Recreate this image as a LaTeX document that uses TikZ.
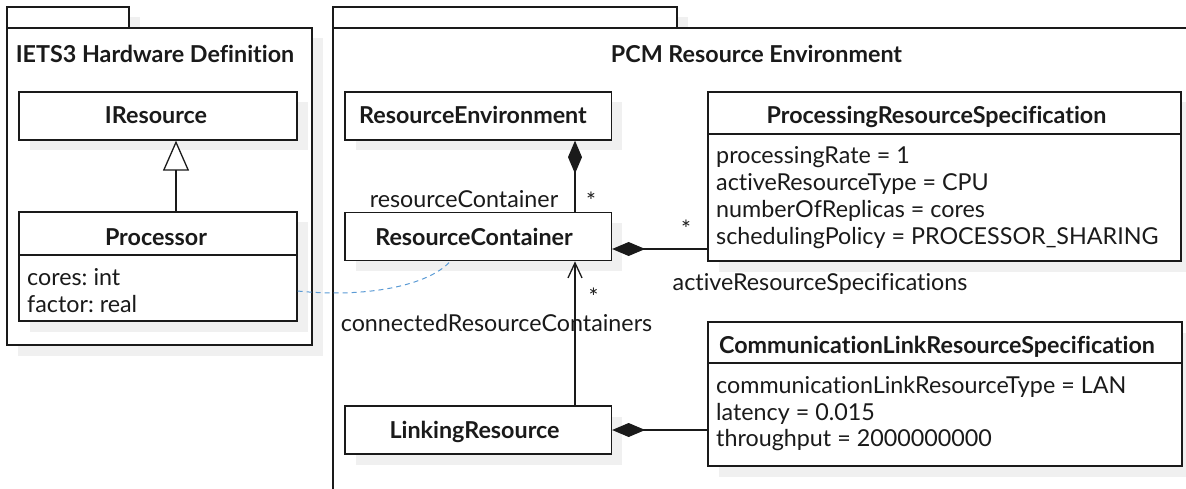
\documentclass[tikz,border=0pt]{standalone}
\usepackage{fontspec}
\setmainfont{Lato}[Ligatures=CommonOff]
\usetikzlibrary{arrows.meta,shadows}
\definecolor{shadowgray}{HTML}{F0F0F0}
\definecolor{linkblue}{HTML}{5B9BD5}
\definecolor{ink}{HTML}{1A1A1A}
\frenchspacing

\tikzset{
  umlshadow/.style={drop shadow={shadow xshift=10.5pt,shadow yshift=-10.5pt,fill=shadowgray,opacity=1}},
  box/.style={draw=ink, line width=1.3pt, fill=white, umlshadow, inner sep=0pt},
  txt/.style={inner sep=0pt, text=ink, font=\fontsize{23.3}{28}\selectfont},
  btxt/.style={inner sep=0pt, text=ink, font=\fontsize{23.3}{28}\selectfont\bfseries},
  conn/.style={draw=ink, line width=1.3pt},
  compo/.style={conn, -{Diamond[length=33pt,width=14pt,fill=ink]}},
  navi/.style={conn, -{Straight Barb[length=15pt,width=14pt,line width=1.3pt]}},
  generalize/.style={conn, -{Triangle[open,length=30pt,width=26pt,fill=white,line width=1.3pt]}},
  trace/.style={draw=linkblue, line width=1pt, dash pattern=on 5pt off 4pt},
}

\begin{document}
\begin{tikzpicture}[x=1pt,y=-1pt]
\path[use as bounding box] (0,0) rectangle (1186,489);
\clip (0,0) rectangle (1186,489);

% ---- package: IETS3 Hardware Definition
\node[box, minimum width=122pt, minimum height=21pt] (ptabA) at (68,17.5) {};
\node[box, minimum width=305pt, minimum height=317pt] (pkgA) at (159.5,186.5) {};
\node[btxt, anchor=base] (pkgAtitle) at (155,63) {IETS3 Hardware Definition};

% ---- package: PCM Resource Environment
\node[box, minimum width=344pt, minimum height=21pt] (ptabB) at (505,17.5) {};
\node[box, minimum width=877pt, minimum height=482pt] (pkgB) at (771.5,269) {};
\node[btxt, anchor=base] (pkgBtitle) at (756.5,63) {PCM Resource Environment};

% ---- classes of the hardware definition
\node[box, minimum width=278pt, minimum height=48pt] (ires) at (158,116) {};
\node[btxt, anchor=base] (iresname) at (156,124) {IResource};

\node[box, minimum width=278pt, minimum height=109pt] (proc) at (158,266.5) {};
\draw[conn] (proc.west |- 0,255) -- (proc.east |- 0,255);
\node[btxt, anchor=base] (procname) at (156,245) {Processor};
\node[txt, anchor=base west] (procA1) at (27,285) {cores: int};
\node[txt, anchor=base west] (procA2) at (27,312) {factor: real};

% ---- classes of the resource environment
\node[box, minimum width=266.5pt, minimum height=48pt] (renv) at (478.25,116) {};
\node[btxt, anchor=base] (renvname) at (473,124) {ResourceEnvironment};

\node[box, minimum width=266.5pt, minimum height=48pt] (rcont) at (478.25,236.7) {};
\node[btxt, anchor=base] (rcontname) at (474,245) {ResourceContainer};

\node[box, minimum width=266.5pt, minimum height=48pt] (lres) at (478.25,430) {};
\node[btxt, anchor=base] (lresname) at (474.5,438.3) {LinkingResource};

\node[box, minimum width=473pt, minimum height=169pt] (prs) at (944.5,176.5) {};
\draw[conn] (prs.west |- 0,134) -- (prs.east |- 0,134);
\node[btxt, anchor=base] (prsname) at (936.5,124) {ProcessingResourceSpecification};
\node[txt, anchor=base west] (prsA1) at (716,164) {processingRate = 1};
\node[txt, anchor=base west] (prsA2) at (716,190.7) {activeResourceType = CPU};
\node[txt, anchor=base west] (prsA3) at (716,217.3) {numberOfReplicas = cores};
\node[txt, anchor=base west] (prsA4) at (716,244) {schedulingPolicy = PROCESSOR\_SHARING};

\node[box, minimum width=474pt, minimum height=144pt] (clrs) at (945,394) {};
\draw[conn] (clrs.west |- 0,363) -- (clrs.east |- 0,363);
\node[btxt, anchor=base] (clrsname) at (937,353.3) {CommunicationLinkResourceSpecification};
\node[txt, anchor=base west] (clrsA1) at (716,393.3) {communicationLinkResourceType = LAN};
\node[txt, anchor=base west] (clrsA2) at (716,420) {latency = 0.015};
\node[txt, anchor=base west] (clrsA3) at (716,446.7) {throughput = 2000000000};

% ---- relations
\draw[generalize] ([xshift=18pt]proc.north) -- ([xshift=18pt]ires.south);
\draw[compo] ([xshift=96.75pt]rcont.north) -- ([xshift=96.75pt]renv.south);
\draw[compo] ([yshift=-12.3pt]prs.west |- rcont.east) -- ([yshift=-12.3pt]rcont.east);
\draw[compo] (clrs.west |- lres.east) -- (lres.east);
\draw[navi] ([xshift=96.75pt]lres.north) -- ([xshift=96.75pt]rcont.south);

% ---- role names and multiplicities
\node[txt, anchor=base] (rolerc) at (464,208) {resourceContainer};
\node[txt, anchor=base] (multrc) at (591,210) {*};
\node[txt, anchor=base] (multars) at (686,237) {*};
\node[txt, anchor=base] (rolears) at (820,290) {activeResourceSpecifications};
\node[txt, anchor=base] (multcrc) at (593.5,305) {*};
\node[txt, anchor=base] (rolecrc) at (496.5,331) {connectedResourceContainers};

% ---- mapping of the processor onto the resource container
\draw[trace] ([yshift=-24.5pt]proc.east) .. controls (365,298) and (428,286) .. ([xshift=-28pt]rcont.south);
\end{tikzpicture}
\end{document}
